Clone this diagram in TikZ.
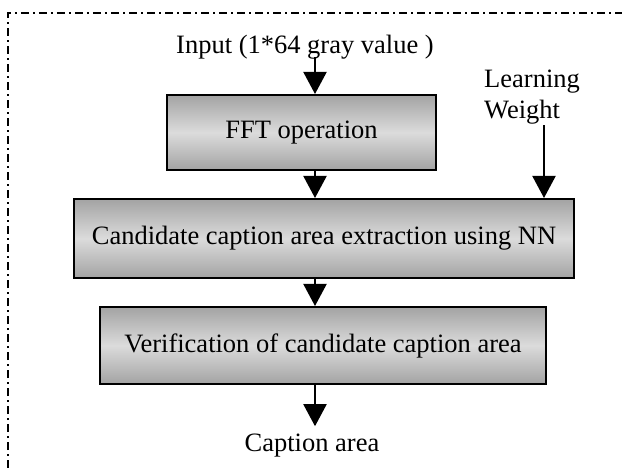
\documentclass[tikz,border=0pt]{standalone}
\usepackage{fontspec}
\setmainfont{Liberation Serif}
\usetikzlibrary{arrows.meta}
\begin{document}
\begin{tikzpicture}[x=1pt,y=-1pt,
  every node/.style={font=\fontsize{26.5}{30.5}\selectfont},
  procbox/.style={draw=black, line width=2pt, top color=black!36, bottom color=black!36, middle color=black!14, inner sep=0pt},
  txt/.style={inner sep=1pt},
  flow/.style={line width=2pt, -{Triangle[length=22pt,width=23pt]}},
  frame/.style={line width=2pt, dash pattern=on 8pt off 4pt on 2pt off 4pt}]
\useasboundingbox (0,0) rectangle (622,468);
\draw[frame] (8,468) -- (8,13) -- (622,13);
\coordinate (col) at (315,0);
\coordinate (lwx) at (544,0);
\node[txt] (in) at (305,47) {Input (1*64 gray value )};
\node[procbox, minimum width=269pt, minimum height=75pt] (fft) at (301.5,132.5) {FFT operation};
\node[txt, align=left, anchor=west] (lw) at (483,97) {Learning\\Weight};
\node[procbox, minimum width=500pt, minimum height=79pt] (cand) at (324,238.5) {Candidate caption area extraction using NN};
\node[procbox, minimum width=446pt, minimum height=77pt] (ver) at (323,345.5) {Verification of candidate caption area};
\node[txt] (cap) at (312,446) {Caption area};
\draw[flow, shorten <=-3pt] (in.south -| col) -- (fft.north -| col);
\draw[flow] (fft.south -| col) -- (cand.north -| col);
\draw[flow] (lw.south -| lwx) -- (cand.north -| lwx);
\draw[flow] (cand.south -| col) -- (ver.north -| col);
\draw[flow, shorten >=7pt] (ver.south -| col) -- (cap.north -| col);
\end{tikzpicture}
\end{document}
